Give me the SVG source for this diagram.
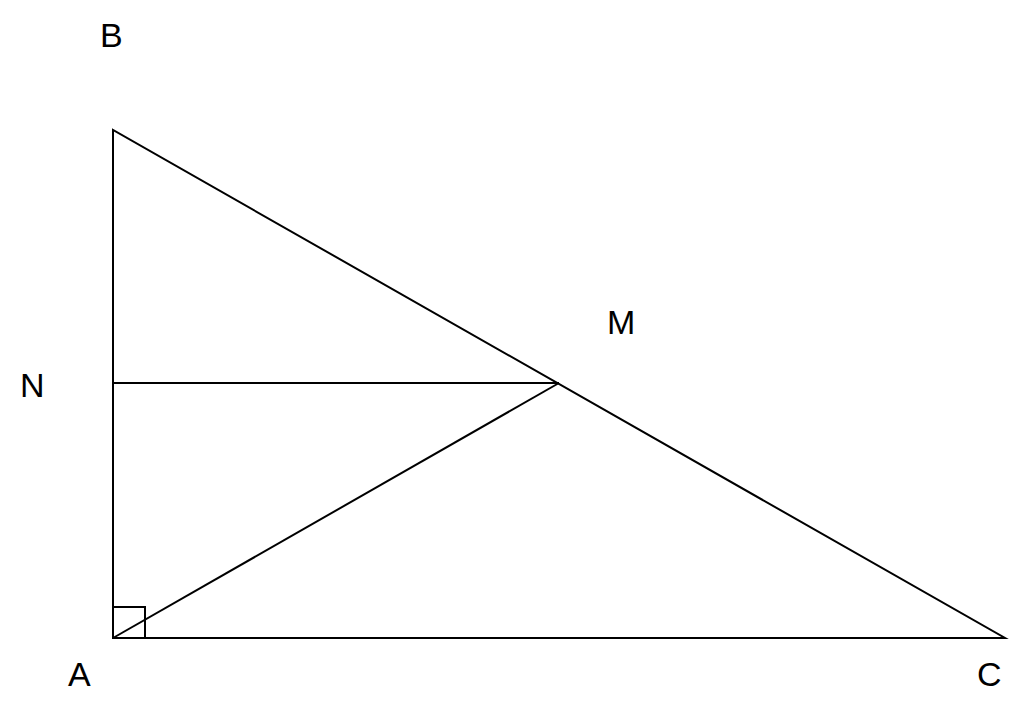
<svg xmlns="http://www.w3.org/2000/svg" width="1024" height="705" viewBox="0 0 1024 705">
<style>.l{stroke:#000;stroke-width:2;fill:none}.t{font-family:"Liberation Sans",Arial,sans-serif;font-size:34px;fill:#000}</style>
<rect width="1024" height="705" fill="#fff"/>
<g id="connectors">
<polygon class="l" points="113,130 113,638 1005,638"/>
<line class="l" x1="113" y1="383" x2="559" y2="383"/>
<line class="l" x1="113" y1="638" x2="559" y2="383"/>
<rect class="l" x="113" y="607" width="32" height="31"/>
</g>
<g id="labels">
<text class="t" x="100" y="47">B</text>
<text class="t" x="607" y="334">M</text>
<text class="t" x="20" y="397">N</text>
<text class="t" x="68" y="686">A</text>
<text class="t" x="977" y="686">C</text>
</g>
</svg>
